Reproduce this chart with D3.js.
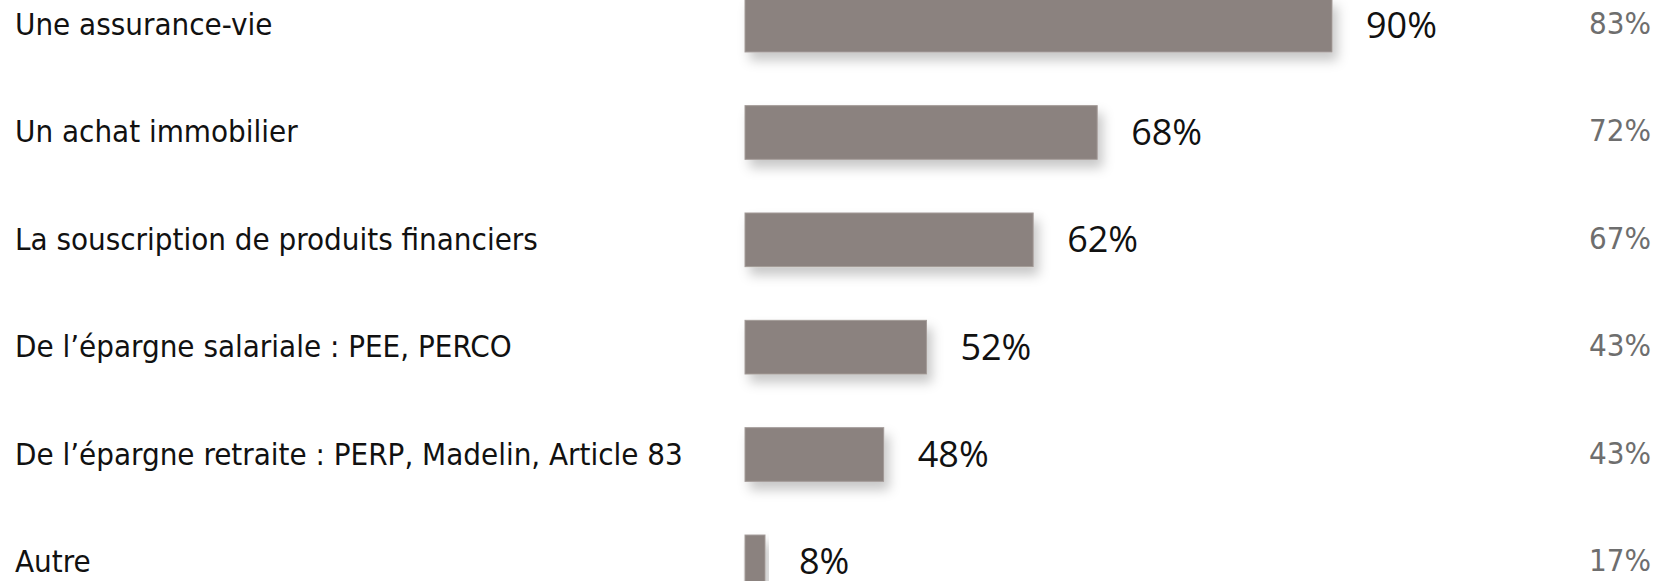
<!DOCTYPE html>
<html lang="fr">
<head>
<meta charset="utf-8">
<script src="https://cdn.jsdelivr.net/npm/d3@7"></script>
<style>
  html, body { margin: 0; padding: 0; background: #ffffff; }
  svg { display: block; }
</style>
</head>
<body>
<script>
// Placements (share of respondents) and comparison column
const categories = [
  "Une assurance-vie",
  "Un achat immobilier",
  "La souscription de produits financiers",
  "De l\u2019épargne salariale : PEE, PERCO",
  "De l\u2019épargne retraite : PERP, Madelin, Article 83",
  "Autre"
];
const mainValues = [90, 68, 62, 52, 48, 8];
const compareValues = [83, 72, 67, 43, 43, 17];

const width = 1661, height = 581;

const svg = d3.select("body").append("svg")
  .attr("width", width)
  .attr("height", height);

// soft shadow under the bars
const defs = svg.append("defs");
const shadow = defs.append("filter")
  .attr("id", "barShadow")
  .attr("x", "-10%").attr("y", "-30%")
  .attr("width", "130%").attr("height", "190%");
shadow.append("feDropShadow")
  .attr("dx", 5).attr("dy", 8)
  .attr("stdDeviation", 6)
  .attr("flood-color", "#000")
  .attr("flood-opacity", 0.22);

const y = d3.scaleBand()
  .domain(categories)
  .range([-1.7, 588.7])
  .paddingInner(0.5)
  .paddingOuter(0);

const barLeft = 745;
const x = d3.scaleLinear()
  .domain([35, 90])
  .range([0, 587])
  .clamp(true);
const minBar = 20;
const barW = v => Math.max(minBar, x(v));

const rows = svg.append("g").selectAll("g")
  .data(categories.map((c, i) => ({ c, v: mainValues[i], cmp: compareValues[i] })))
  .join("g");

rows.append("rect")
  .attr("x", barLeft)
  .attr("y", d => y(d.c))
  .attr("width", d => barW(d.v))
  .attr("height", y.bandwidth())
  .attr("fill", "#8b827f")
  .attr("stroke", "#a39b98")
  .attr("stroke-width", 1)
  .attr("filter", "url(#barShadow)");

// category names
rows.append("text")
  .attr("x", 15)
  .attr("y", d => y(d.c) + y.bandwidth() / 2 - 1)
  .attr("dominant-baseline", "central")
  .attr("font-family", "'DejaVu Sans Condensed', 'DejaVu Sans', sans-serif")
  .attr("font-stretch", "condensed")
  .attr("font-size", 31)
  .attr("fill", "#111")
  .text(d => d.c);

// value at the end of each bar
rows.append("text")
  .attr("x", d => barLeft + barW(d.v) + 34)
  .attr("y", d => y(d.c) + y.bandwidth() / 2 - 1)
  .attr("dominant-baseline", "central")
  .attr("font-family", "'Open Sans', sans-serif")
  .attr("font-size", 36)
  .attr("fill", "#111")
  .text(d => d.v + "%");

// comparison column on the right
rows.append("text")
  .attr("x", 1651)
  .attr("y", d => y(d.c) + y.bandwidth() / 2 - 2)
  .attr("text-anchor", "end")
  .attr("dominant-baseline", "central")
  .attr("font-family", "'DejaVu Sans Condensed', 'DejaVu Sans', sans-serif")
  .attr("font-stretch", "condensed")
  .attr("font-size", 31)
  .attr("fill", "#6e6e6e")
  .text(d => d.cmp + "%");
</script>
</body>
</html>
